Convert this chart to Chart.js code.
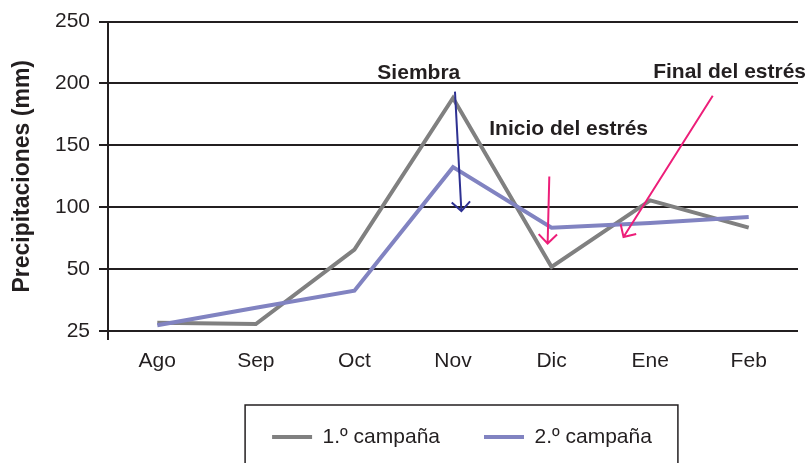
<!DOCTYPE html>
<html>
<head>
<meta charset="utf-8">
<script src="https://cdn.jsdelivr.net/npm/chart.js@4.4.1/dist/chart.umd.min.js"></script>
<style>
  html, body { margin: 0; padding: 0; background: #fff; }
  #wrap { width: 806px; height: 463px; }
</style>
</head>
<body>
<div id="wrap"><canvas id="grafico"></canvas></div>
<script>
// meses
var meses = ['Ago', 'Sep', 'Oct', 'Nov', 'Dic', 'Ene', 'Feb'];
// precipitaciones (posición en el eje, 0 = línea "25")
var campana1 = [6.7, 5.6, 65.8, 188.3, 51.8, 105.5, 83.5];
var campana2 = [4.6, 18.8, 32.5, 132.4, 83.5, 87.3, 92.1];
// etiquetas del eje y
var etiquetasY = ['25', '50', '100', '150', '200', '250'];

// flechas y textos (en coordenadas del gráfico)
var flechas = [
    { desde: [3.02, 193.4], hasta: [3.085, 96.9], color: '#2e3192' },
    { desde: [3.977, 124.9], hasta: [3.96, 70.7], color: '#ed1e79' },
    { desde: [5.635, 190.1], hasta: [4.73, 76.0], color: '#ed1e79' }
];
var textos = [
    { texto: 'Siembra', pos: [2.653, 207.9] },
    { texto: 'Inicio del estrés', pos: [4.173, 162.7] },
    { texto: 'Final del estrés', pos: [5.806, 209.5] }
];

var negro = '#231f20';
var fuente = 'Arial, "Liberation Sans", Helvetica, sans-serif';

var anotaciones = {
    id: 'anotaciones',
    afterUpdate: function(chart) {
        // correr la leyenda un poco a la derecha
        var ley = chart.legend;
        ley.left += 9;
        ley.right += 9;
        (ley.legendHitBoxes || []).forEach(function(h) { h.left += 9; });
    },
    afterDatasetsDraw: function(chart) {
        var ctx = chart.ctx;
        var x = chart.scales.x, y = chart.scales.y;
        ctx.save();
        flechas.forEach(function(f) {
            var x1 = x.getPixelForValue(f.desde[0]), y1 = y.getPixelForValue(f.desde[1]);
            var x2 = x.getPixelForValue(f.hasta[0]), y2 = y.getPixelForValue(f.hasta[1]);
            var ang = Math.atan2(y2 - y1, x2 - x1);
            var largo = 13, abre = Math.PI / 4;
            ctx.strokeStyle = f.color;
            ctx.lineWidth = 2;
            ctx.lineCap = 'butt';
            ctx.beginPath();
            ctx.moveTo(x1, y1);
            ctx.lineTo(x2, y2);
            ctx.moveTo(x2 - largo * Math.cos(ang - abre), y2 - largo * Math.sin(ang - abre));
            ctx.lineTo(x2, y2);
            ctx.lineTo(x2 - largo * Math.cos(ang + abre), y2 - largo * Math.sin(ang + abre));
            ctx.stroke();
        });
        ctx.fillStyle = negro;
        ctx.font = 'bold 21px ' + fuente;
        ctx.textAlign = 'center';
        ctx.textBaseline = 'middle';
        textos.forEach(function(t) {
            ctx.fillText(t.texto, x.getPixelForValue(t.pos[0]), y.getPixelForValue(t.pos[1]));
        });
        ctx.restore();
    },
    afterDraw: function(chart) {
        // marco de la leyenda
        var cajas = chart.legend.legendHitBoxes;
        if (!cajas || !cajas.length) return;
        var primera = cajas[0], ultima = cajas[cajas.length - 1];
        var cy = primera.top + primera.height / 2;
        var ctx = chart.ctx;
        ctx.save();
        ctx.strokeStyle = negro;
        ctx.lineWidth = 1.5;
        ctx.strokeRect(primera.left - 27, cy - 32, ultima.left + ultima.width - primera.left + 53, 80);
        ctx.restore();
    }
};

var ctx = document.getElementById('grafico').getContext('2d');
window.grafico = new Chart(ctx, {
    type: 'line',
    data: {
        labels: meses,
        datasets: [{
            label: '1.º campaña',
            data: campana1,
            borderColor: '#808080',
            backgroundColor: '#808080',
            borderWidth: 4,
            pointRadius: 0,
            tension: 0,
            order: 1
        }, {
            label: '2.º campaña',
            data: campana2,
            borderColor: '#8183c1',
            backgroundColor: '#8183c1',
            borderWidth: 4,
            pointRadius: 0,
            tension: 0,
            order: 0
        }]
    },
    options: {
        responsive: true,
        maintainAspectRatio: false,
        animation: false,
        layout: { padding: { top: 20, right: 8, bottom: 5.5, left: 0 } },
        plugins: {
            tooltip: { enabled: false },
            legend: {
                position: 'bottom',
                fullSize: false,
                labels: {
                    boxWidth: 40,
                    boxHeight: 4,
                    padding: 44,
                    color: negro,
                    font: { family: fuente, size: 21 },
                    generateLabels: function(chart) {
                        return chart.data.datasets.map(function(ds, i) {
                            return {
                                text: ds.label,
                                fillStyle: ds.borderColor,
                                strokeStyle: ds.borderColor,
                                lineWidth: 0,
                                fontColor: negro,
                                datasetIndex: i
                            };
                        });
                    }
                }
            }
        },
        scales: {
            x: {
                offset: true,
                border: { display: false },
                grid: {
                    offset: true,
                    drawOnChartArea: false,
                    tickLength: 9,
                    lineWidth: 2,
                    color: function(c) { return c.index === 0 ? negro : 'rgba(0,0,0,0)'; }
                },
                ticks: { color: negro, padding: 9, font: { family: fuente, size: 21 } },
                afterFit: function(s) { s.height = 51.5; }
            },
            y: {
                min: 0,
                max: 250,
                border: { display: true, color: negro, width: 2 },
                grid: { color: negro, lineWidth: 2, tickLength: 9 },
                ticks: {
                    stepSize: 50,
                    padding: 9,
                    color: negro,
                    font: { family: fuente, size: 21 },
                    callback: function(v) { return etiquetasY[v / 50]; }
                },
                title: {
                    display: true,
                    text: 'Precipitaciones (mm)',
                    color: negro,
                    padding: { top: 9, bottom: 0 },
                    font: { family: fuente, size: 23, weight: 'bold' }
                },
                afterFit: function(s) { s.width = 108; }
            }
        }
    },
    plugins: [anotaciones]
});
</script>
</body>
</html>
